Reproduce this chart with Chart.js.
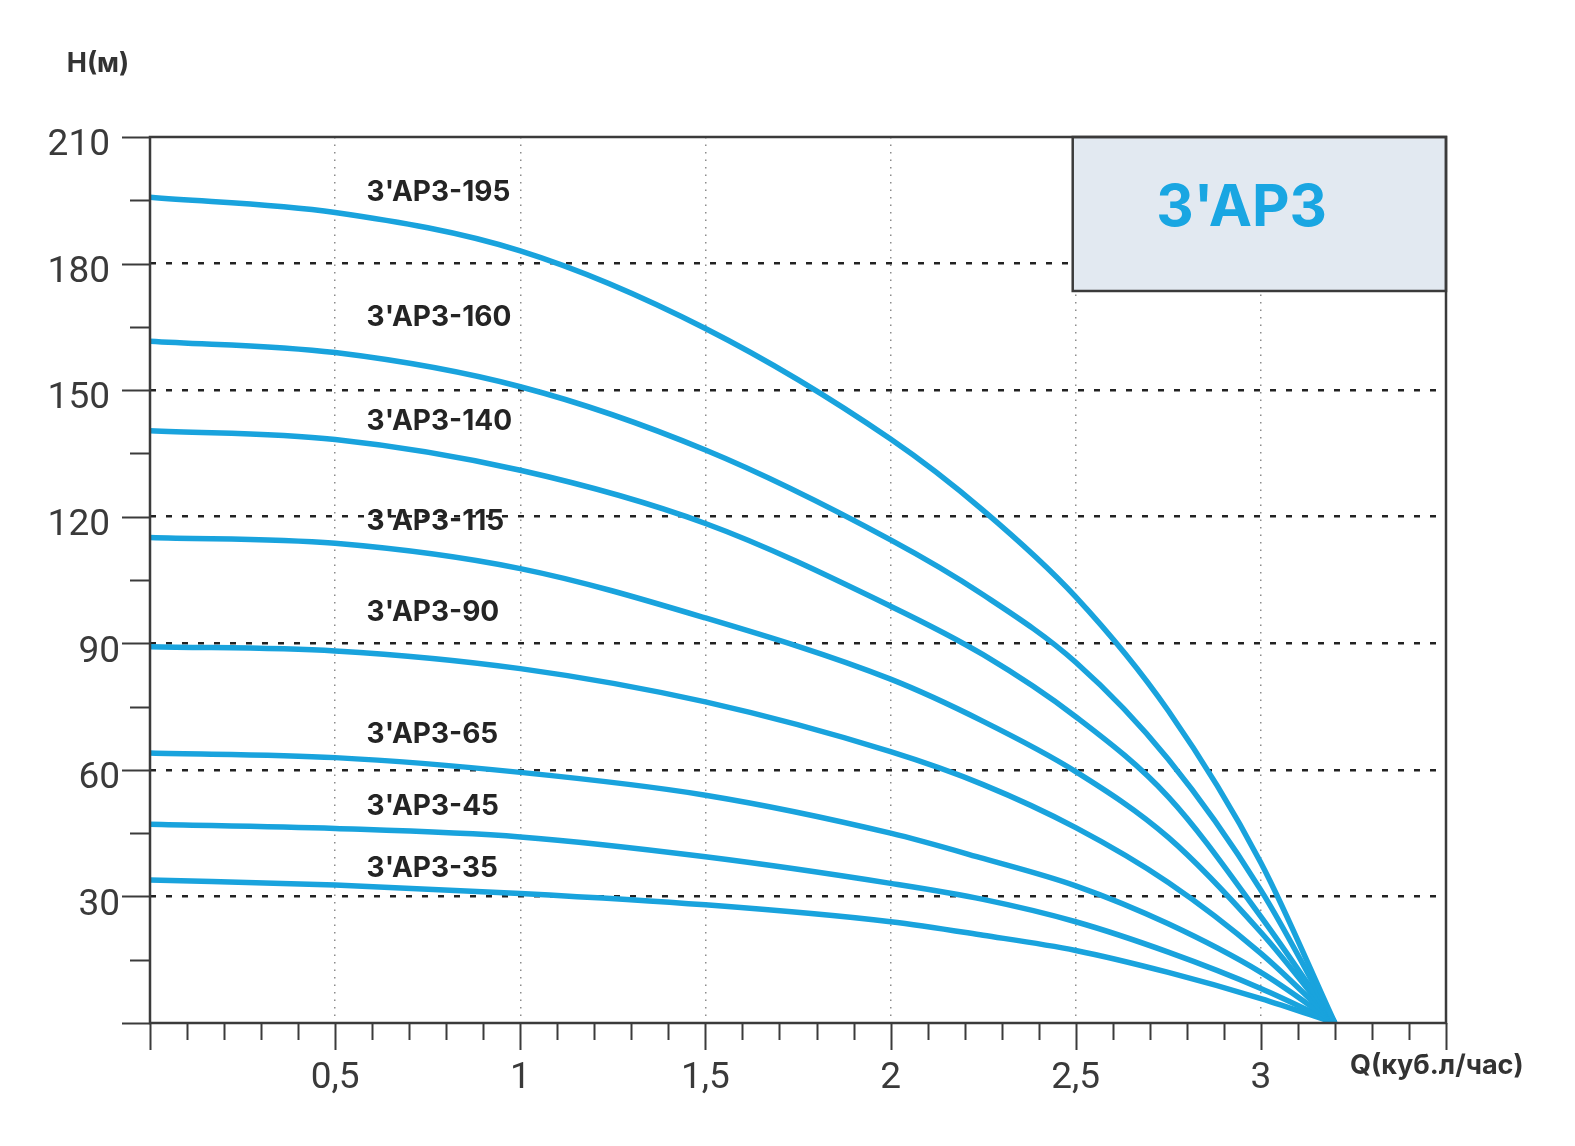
<!DOCTYPE html>
<html lang="ru">
<head>
<meta charset="utf-8">
<title>3'AP3</title>
<script src="https://cdn.jsdelivr.net/npm/chart.js@4.4.1/dist/chart.umd.min.js"></script>
<style>
  html, body { margin: 0; padding: 0; background: #fff; }
  #wrap { width: 1575px; height: 1146px; }
</style>
</head>
<body>
<div id="wrap"><canvas id="pumpChart" width="1575" height="1146"></canvas></div>
<script>
// подача Q, куб.м/час
const flowQ = [0, 0.5, 1, 1.5, 2, 2.25, 2.5, 2.75, 3, 3.2];

// напор H, м
const head195 = [195.7, 192.1, 183, 164.6, 138.4, 121.5, 101, 74, 38, 0];
const head160 = [161.6, 158.9, 150.8, 135.8, 114.5, 101.5, 85.5, 62.5, 31.5, 0];
const head140 = [140.4, 138.3, 131, 118.4, 98.8, 87.3, 72.6, 53.6, 25.2, 0];
const head115 = [115.1, 113.7, 107.7, 96, 81.5, 71.5, 59.6, 44, 21.5, 0];
const head90 = [89.2, 88.2, 84, 76.1, 64.3, 56.5, 46.3, 33.3, 16.5, 0];
const head65 = [64, 62.9, 59.4, 54, 45, 39, 32.5, 23.5, 12, 0];
const head45 = [47.1, 46.1, 44.1, 39.4, 33.1, 29.3, 24, 16.8, 8.2, 0];
const head35 = [33.9, 32.7, 30.7, 28, 24, 20.8, 17.2, 12, 5.8, 0];

const modelNames = ["3'AP3-195", "3'AP3-160", "3'AP3-140", "3'AP3-115", "3'AP3-90", "3'AP3-65", "3'AP3-45", "3'AP3-35"];
const modelHeads = [head195, head160, head140, head115, head90, head65, head45, head35];

const xTickValues = [0.5, 1, 1.5, 2, 2.5, 3];
const xTickLabels = ["0,5", "1", "1,5", "2", "2,5", "3"];
const yTickValues = [30, 60, 90, 120, 150, 180, 210];
const yTickLabels = ["30", "60", "90", "120", "150", "180", "210"];

const seriesName = "3'AP3";
const xTitle = "Q(куб.л/час)";
const yTitle = "H(м)";

// где стоят подписи кривых (в единицах осей)
const nameAtQ = 0.585;
const nameAtH = [196.9, 167.2, 142.5, 118.9, 97.2, 68.3, 51.4, 36.6];

const LINE_BLUE = "#19a3dd";
const INK = "#3a3a3a";

const decor = {
  id: "decor",
  beforeDatasetsDraw(chart) {
    const { ctx, scales: { x, y } } = chart;
    // табличка с названием серии
    const bx0 = x.getPixelForValue(2.5) - 3;
    const bx1 = x.getPixelForValue(3.5);
    const by0 = y.getPixelForValue(210);
    const by1 = y.getPixelForValue(173.5);
    ctx.save();
    ctx.fillStyle = "#e2e9f1";
    ctx.fillRect(bx0, by0, bx1 - bx0, by1 - by0);
    ctx.strokeStyle = "#3b3b3b";
    ctx.lineWidth = 2.5;
    ctx.strokeRect(bx0, by0, bx1 - bx0, by1 - by0);
    ctx.fillStyle = "#19a6e2";
    ctx.font = "700 58px Inter";
    ctx.textAlign = "center";
    ctx.textBaseline = "middle";
    ctx.fillText(seriesName, x.getPixelForValue(2.948), y.getPixelForValue(193));
    ctx.restore();
  },
  afterDraw(chart) {
    const { ctx, chartArea: a, scales: { x, y } } = chart;
    ctx.save();
    ctx.strokeStyle = "#3b3b3b";
    ctx.lineWidth = 2.5;
    ctx.strokeRect(a.left, a.top, a.right - a.left, a.bottom - a.top);

    // засечки по оси H
    ctx.lineWidth = 2;
    for (let v = 0; v <= 210; v += 15) {
      const py = Math.round(y.getPixelForValue(v)) + 0.5;
      const len = v % 30 === 0 ? 28 : 20;
      ctx.beginPath();
      ctx.moveTo(a.left - len, py);
      ctx.lineTo(a.left, py);
      ctx.stroke();
    }
    // засечки по оси Q
    for (let i = 0; i <= 35; i++) {
      const px = Math.round(x.getPixelForValue(i / 10)) + 0.5;
      const len = i % 5 === 0 ? 27 : 17;
      ctx.beginPath();
      ctx.moveTo(px, a.bottom);
      ctx.lineTo(px, a.bottom + len);
      ctx.stroke();
    }

    // подписи оси H
    ctx.fillStyle = INK;
    ctx.font = "400 37px Roboto";
    ctx.textAlign = "right";
    ctx.textBaseline = "middle";
    yTickValues.forEach((v, i) => {
      const txt = yTickLabels[i];
      const right = a.left - (txt.length > 2 ? 40 : 30);
      ctx.fillText(txt, right, y.getPixelForValue(v) + 9);
    });

    // названия осей
    ctx.fillStyle = "#333";
    ctx.font = "700 27px Inter";
    ctx.textAlign = "center";
    ctx.fillText(yTitle, a.left - 52, a.top - 73);
    ctx.textAlign = "left";
    ctx.fillText(xTitle, a.right - 96, a.bottom + 43);

    // подписи кривых
    ctx.fillStyle = "#242424";
    ctx.font = "700 28px Inter";
    modelNames.forEach((name, i) => {
      ctx.fillText(name, x.getPixelForValue(nameAtQ), y.getPixelForValue(nameAtH[i]));
    });
    ctx.restore();
  }
};

const datasets = modelNames.map((name, k) => ({
  label: name,
  data: flowQ.map((q, i) => ({ x: q, y: modelHeads[k][i] })),
  borderColor: LINE_BLUE,
  borderWidth: 5.5,
  pointRadius: 0,
  fill: false,
  cubicInterpolationMode: "monotone"
}));

new Chart(document.getElementById("pumpChart"), {
  type: "line",
  data: { datasets },
  plugins: [decor],
  options: {
    responsive: false,
    animation: false,
    layout: { padding: { top: 137, right: 129, left: 0, bottom: 0 } },
    plugins: {
      legend: { display: false },
      tooltip: { enabled: false }
    },
    scales: {
      x: {
        type: "linear",
        min: 0,
        max: 3.5,
        afterFit: s => { s.height = 123; },
        ticks: {
          stepSize: 0.5,
          autoSkip: false,
          maxRotation: 0,
          padding: 34,
          color: INK,
          font: { family: "Roboto", size: 37 },
          callback: v => {
            const i = xTickValues.indexOf(v);
            return i >= 0 ? xTickLabels[i] : "";
          }
        },
        grid: {
          drawTicks: false,
          lineWidth: 1.5,
          color: c => (c.tick && xTickValues.includes(c.tick.value)) ? "#8c8c8c" : "rgba(0,0,0,0)"
        },
        border: { display: false, dash: [1.5, 6] }
      },
      y: {
        min: 0,
        max: 210,
        afterFit: s => { s.width = 150; },
        ticks: { stepSize: 30, display: false },
        grid: {
          drawTicks: false,
          lineWidth: 2.5,
          color: c => (c.tick && c.tick.value > 0 && c.tick.value < 210) ? "#222" : "rgba(0,0,0,0)"
        },
        border: { display: false, dash: [6, 10] }
      }
    }
  }
});
</script>
</body>
</html>
